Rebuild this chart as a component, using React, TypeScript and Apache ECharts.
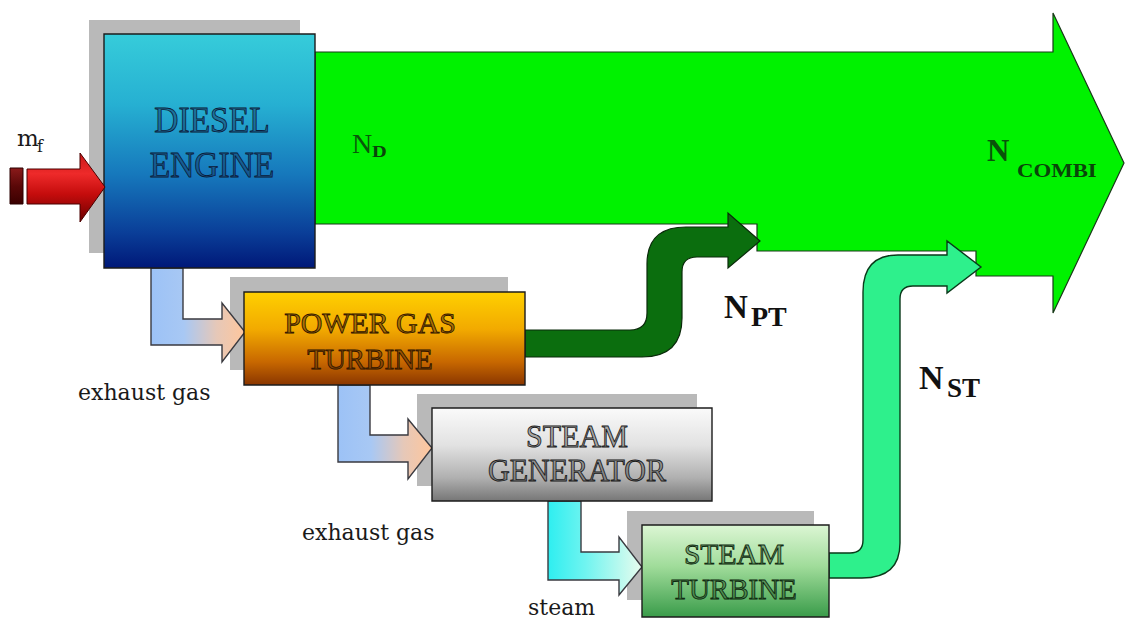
import React, { useEffect, useRef } from "react";
import * as echarts from "echarts";

// ---- textual content of the diagram ----
const BOX_LABELS: string[][] = [
  ["DIESEL", "ENGINE"],
  ["POWER GAS", "TURBINE"],
  ["STEAM", "GENERATOR"],
  ["STEAM", "TURBINE"],
];
const FLOW_LABELS: string[] = ["exhaust gas", "exhaust gas", "steam"];
const FUEL_LABEL: string[] = ["m", "f"];
const POWER_MAIN: string[] = ["N", "N", "N", "N"];
const POWER_SUBS: string[] = ["D", "PT", "ST", "COMBI"];

// ---- geometry of curved flows (drawing constants) ----
const NPT_PATH =
  "M 525 330 L 630 330 Q 647 330 647 313 L 647 264 Q 647 227 686 227 L 728 227 L 728 213 L 760 241 L 728 268 L 728 257 L 697 257 Q 682 257 682 272 L 682 318 Q 682 357 642 357 L 525 357 Z";
const NST_PATH =
  "M 829 553 L 850 553 Q 863 553 863 540 L 863 292 Q 863 255 898 255 L 947 255 L 947 241 L 981 267 L 947 293 L 947 286 L 913 286 Q 900 286 900 299 L 900 543 Q 900 578 862 578 L 829 578 Z";

echarts.graphic.registerShape("nptFlow", echarts.graphic.extendPath(NPT_PATH, {}));
echarts.graphic.registerShape("nstFlow", echarts.graphic.extendPath(NST_PATH, {}));

const lg = (x2: number, y2: number, stops: [number, string][]) =>
  new echarts.graphic.LinearGradient(
    0,
    0,
    x2,
    y2,
    stops.map(([offset, color]) => ({ offset, color }))
  );

const SERIF = "'Liberation Serif', 'Times New Roman', serif";
const DSERIF = "'DejaVu Serif', serif";

function boxText(x: number, y: number, text: string, size: number, fill: string, stroke: string, sx = 1) {
  return {
    type: "text",
    x,
    y,
    scaleX: sx,
    z: 50,
    style: {
      text,
      fontFamily: SERIF,
      fontSize: size,
      fill,
      stroke,
      lineWidth: 0.9,
      align: "center",
      verticalAlign: "middle",
    },
  };
}

function plainText(x: number, y: number, text: string, size: number, fill: string, family = DSERIF, weight = "normal", sx = 1) {
  return {
    type: "text",
    x,
    y,
    scaleX: sx,
    z: 50,
    style: {
      text,
      fontFamily: family,
      fontSize: size,
      fontWeight: weight,
      fill,
      align: "left",
      verticalAlign: "middle",
    },
  };
}

function buildOption() {
  const shadow = "#b9b9b9";
  const edge = "#1c1c1c";
  const elements: any[] = [];

  // shadows
  [
    [89, 20, 211, 233],
    [230, 277, 278, 93],
    [417, 394, 280, 92],
    [627, 511, 187, 89],
  ].forEach(([x, y, w, h]) =>
    elements.push({ type: "rect", shape: { x, y, width: w, height: h }, style: { fill: shadow }, z: 1 })
  );

  // main combined-power arrow
  elements.push({
    type: "polygon",
    z: 2,
    shape: {
      points: [
        [315, 52], [1053, 52], [1053, 13], [1124, 163], [1053, 313], [1053, 276],
        [976, 276], [976, 251], [757, 251], [757, 224], [315, 224],
      ],
    },
    style: { fill: "#00f200", stroke: "#183818", lineWidth: 1.2 },
  });

  // power turbine flow
  elements.push({ type: "nptFlow", x: 0, y: 0, z: 3, style: { fill: "#0b6e0e", stroke: "#0a2a0a", lineWidth: 1.2 } });
  // steam turbine flow
  elements.push({ type: "nstFlow", x: 0, y: 0, z: 3, style: { fill: "#2ef08c", stroke: "#0a3a1a", lineWidth: 1.4 } });

  // connectors
  const conn = (pts: number[][], stops: [number, string][]) =>
    elements.push({
      type: "polygon",
      z: 4,
      shape: { points: pts },
      style: { fill: lg(1, 0, stops), stroke: "#3a3a40", lineWidth: 1.4 },
    });
  conn(
    [[151, 268], [183, 268], [183, 319], [222, 319], [222, 303], [245, 332], [222, 362], [222, 345], [151, 345]],
    [[0, "#9cc2f6"], [0.35, "#a8c8f4"], [0.7, "#e6c8b8"], [1, "#ffc69c"]]
  );
  conn(
    [[338, 385], [370, 385], [370, 435], [408, 435], [408, 419], [432, 448], [408, 479], [408, 462], [338, 462]],
    [[0, "#9cc2f6"], [0.35, "#a8c8f4"], [0.7, "#e6c8b8"], [1, "#ffc69c"]]
  );
  conn(
    [[548, 501], [581, 501], [581, 552], [619, 552], [619, 537], [642, 567], [619, 595], [619, 580], [548, 580]],
    [[0, "#2eeef0"], [0.4, "#70f4f0"], [1, "#e8fcee"]]
  );

  // boxes
  const box = (x: number, y: number, w: number, h: number, stops: [number, string][]) =>
    elements.push({
      type: "rect",
      z: 5,
      shape: { x, y, width: w, height: h },
      style: { fill: lg(0, 1, stops), stroke: edge, lineWidth: 1.4 },
    });
  box(104, 34, 211, 234, [[0, "#36ccda"], [0.3, "#26b0d2"], [0.6, "#1678bc"], [0.85, "#0a3e98"], [1, "#001878"]]);
  box(244, 292, 281, 93, [[0, "#ffd000"], [0.4, "#f2aa00"], [0.75, "#c86800"], [1, "#8a3600"]]);
  box(432, 408, 280, 93, [[0, "#fafafa"], [0.4, "#e2e2e2"], [0.75, "#b0b0b0"], [1, "#767676"]]);
  box(642, 525, 187, 92, [[0, "#dcf6d4"], [0.45, "#a0dc9a"], [1, "#3a9c4a"]]);

  // fuel arrow
  elements.push({
    type: "rect",
    z: 6,
    shape: { x: 10, y: 168, width: 13, height: 36 },
    style: { fill: lg(0, 1, [[0, "#8a1a1a"], [0.5, "#5a0808"], [1, "#3a0000"]]), stroke: "#2a0000", lineWidth: 1 },
  });
  elements.push({
    type: "polygon",
    z: 6,
    shape: { points: [[27, 169], [80, 169], [80, 153], [105, 187], [80, 222], [80, 204], [27, 204]] },
    style: {
      fill: lg(0, 1, [[0, "#c81818"], [0.3, "#ee2a2a"], [0.6, "#c40c0c"], [1, "#6a0000"]]),
      stroke: "#4a0000",
      lineWidth: 1,
    },
  });

  // box texts
  elements.push(boxText(212, 120, BOX_LABELS[0][0], 36, "rgba(20,50,90,0.45)", "#0a1632", 0.93));
  elements.push(boxText(212, 165, BOX_LABELS[0][1], 36, "rgba(20,50,90,0.45)", "#0a1632", 0.93));
  elements.push(boxText(370, 323, BOX_LABELS[1][0], 29, "rgba(80,40,0,0.45)", "#2a1200", 1.03));
  elements.push(boxText(370, 359, BOX_LABELS[1][1], 29, "rgba(80,40,0,0.45)", "#2a1200", 1));
  elements.push(boxText(577, 437, BOX_LABELS[2][0], 31, "rgba(60,60,60,0.4)", "#141414", 0.97));
  elements.push(boxText(577, 471, BOX_LABELS[2][1], 31, "rgba(60,60,60,0.4)", "#141414", 0.97));
  elements.push(boxText(734, 554, BOX_LABELS[3][0], 29, "rgba(30,70,30,0.4)", "#0c1e0c", 1.02));
  elements.push(boxText(734, 589, BOX_LABELS[3][1], 29, "rgba(30,70,30,0.4)", "#0c1e0c", 1));

  // flow labels
  elements.push(plainText(78, 392, FLOW_LABELS[0], 22, "#1a1a1a"));
  elements.push(plainText(302, 532, FLOW_LABELS[1], 22, "#1a1a1a"));
  elements.push(plainText(528, 607, FLOW_LABELS[2], 22, "#1a1a1a"));

  // fuel label
  elements.push(plainText(17, 138, FUEL_LABEL[0], 23, "#1a1a1a"));
  elements.push(plainText(37, 146, FUEL_LABEL[1], 16, "#1a1a1a"));

  // power symbols
  elements.push(plainText(352, 143, POWER_MAIN[0], 28, "#0a560a", SERIF, "normal"));
  elements.push(plainText(372, 151, POWER_SUBS[0], 17, "#0a440a", SERIF, "bold", 1.2));

  elements.push(plainText(724, 307, POWER_MAIN[1], 33, "#111111", SERIF, "bold"));
  elements.push(plainText(751, 316, POWER_SUBS[1], 28, "#111111", SERIF, "bold"));

  elements.push(plainText(919, 377, POWER_MAIN[2], 34, "#111111", SERIF, "bold"));
  elements.push(plainText(947, 388, POWER_SUBS[2], 27, "#111111", SERIF, "bold"));

  elements.push(plainText(987, 150, POWER_MAIN[3], 31, "#0a520a", SERIF, "bold"));
  elements.push(plainText(1017, 171, POWER_SUBS[3], 19, "#0a440a", SERIF, "bold", 1.2));

  return {
    animation: false,
    backgroundColor: "#ffffff",
    graphic: { elements },
  };
}

export default function App() {
  const ref = useRef<HTMLDivElement>(null);
  useEffect(() => {
    if (!ref.current) return;
    const chart = echarts.init(ref.current, undefined, { renderer: "svg" });
    chart.setOption(buildOption() as any);
    return () => chart.dispose();
  }, []);
  return (
    <div
      ref={ref}
      style={{ position: "fixed", left: 0, top: 0, width: 1125, height: 624, background: "#fff" }}
    />
  );
}
